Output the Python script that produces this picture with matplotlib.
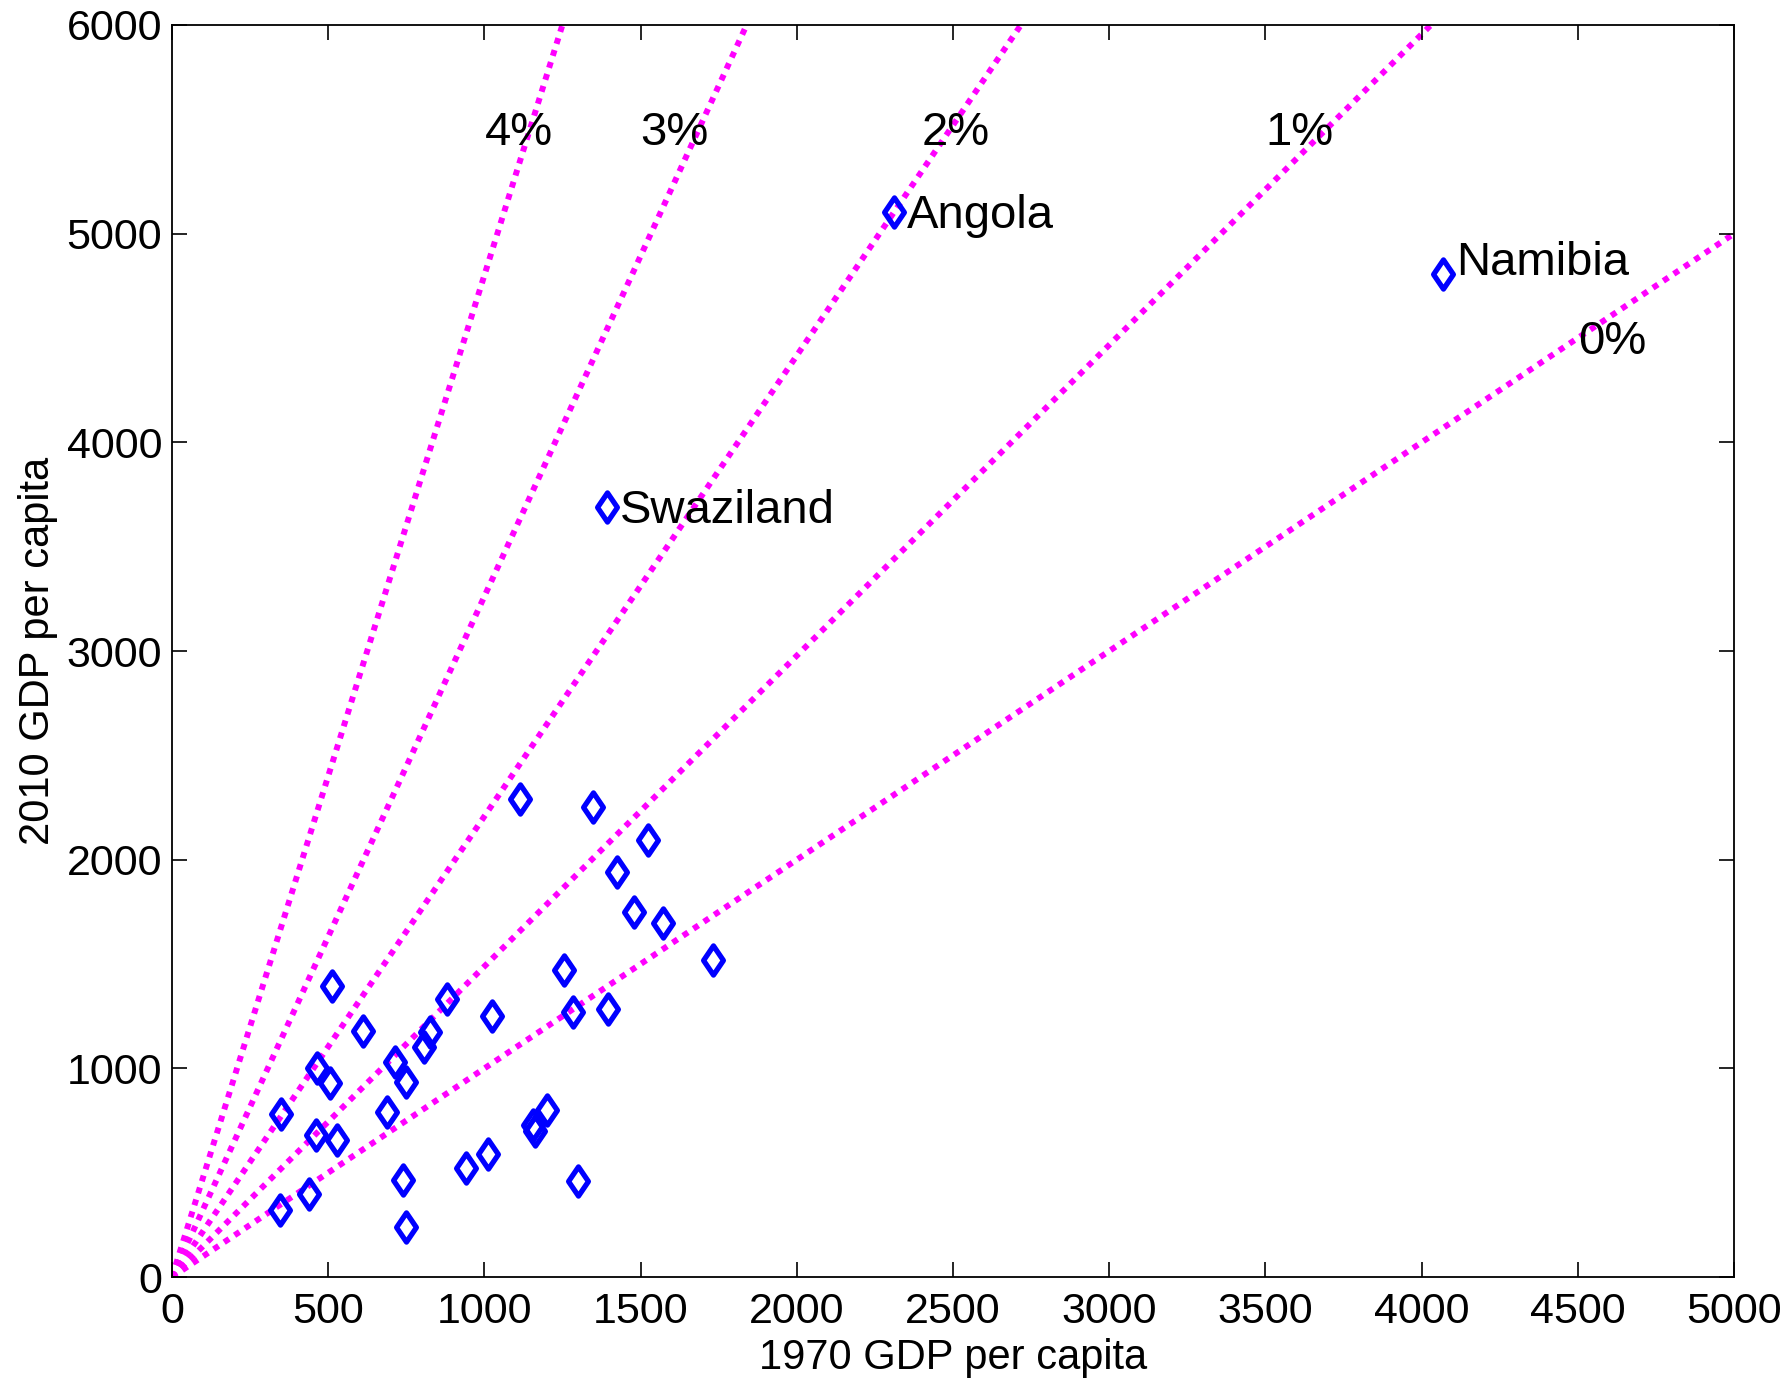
import numpy as np
import matplotlib
matplotlib.use("Agg")
import matplotlib.pyplot as plt
from matplotlib.path import Path

plt.rcParams['font.family'] = ['Liberation Sans', 'DejaVu Sans']

# GDP per capita, 1970 vs 2010
gdp1970 = [350, 346, 440, 461, 463, 506, 513, 529, 610, 687, 714, 739, 748, 748,
           808, 826, 879, 941, 1010, 1025, 1114, 1155, 1163, 1201, 1255, 1285,
           1301, 1349, 1397, 1423, 1480, 1524, 1573, 1731]
gdp2010 = [782, 321, 398, 682, 1000, 931, 1396, 656, 1179, 789, 1029, 463, 936, 241,
           1104, 1175, 1331, 524, 589, 1249, 2289, 728, 700, 800, 1471, 1271,
           460, 2254, 1284, 1939, 1748, 2094, 1695, 1519]

named = ['Swaziland', 'Angola', 'Namibia']
named1970 = [1393, 2312, 4070]
named2010 = [3691, 5105, 4809]

# constant growth rates over 40 years (percent per year)
rates = [0, 1, 2, 3, 4]
years = 40

# matlab-like diamond (a bit wider than matplotlib's thin one)
diamond = Path([(0, 1), (0.68, 0), (0, -1), (-0.68, 0), (0, 1)],
               [Path.MOVETO, Path.LINETO, Path.LINETO, Path.LINETO, Path.CLOSEPOLY])

fig = plt.figure(figsize=(17.86, 13.8), dpi=100)
ax = fig.add_axes([0.0963, 0.0746, 0.8746, 0.9073])

xx = np.array([0, 5000])
for r in rates:
    slope = (1 + r / 100.0) ** years
    ax.plot(xx, xx * slope, color='#ff00ff', lw=4.3, dashes=(1, 1.1),
            dash_capstyle='butt', zorder=1)

ax.plot(gdp1970, gdp2010, marker=diamond, ls='none', ms=21, mfc='none',
        mec='#0000ff', mew=3.8, zorder=3)
ax.plot(named1970, named2010, marker=diamond, ls='none', ms=21, mfc='none',
        mec='#0000ff', mew=3.8, zorder=3)

# rate labels
rate_pos = [(4500, 4480), (3500, 5480), (2400, 5480), (1500, 5480), (1000, 5480)]
for r, (px, py) in zip(rates, rate_pos):
    ax.text(px, py, '%d%%' % r, fontsize=34, va='center', ha='left')

# country labels
label_dy = [-20, -20, 50]
for name, cx, cy, dy in zip(named, named1970, named2010, label_dy):
    ax.text(cx + 40, cy + dy, name, fontsize=34, va='center', ha='left')

ax.set_xlim(0, 5000)
ax.set_ylim(0, 6000)
ax.set_xticks(np.arange(0, 5001, 500))
ax.set_yticks(np.arange(0, 6001, 1000))
ax.tick_params(direction='in', length=11, width=1.2, labelsize=31,
               top=True, right=True)
ax.tick_params(axis='x', pad=11)
ax.tick_params(axis='y', pad=7)
for s in ax.spines.values():
    s.set_linewidth(1.3)

ax.set_xlabel('1970 GDP per capita', fontsize=30, labelpad=4)
ax.set_ylabel('2010 GDP per capita', fontsize=30, labelpad=6)

fig.savefig('out.png', dpi=100)
